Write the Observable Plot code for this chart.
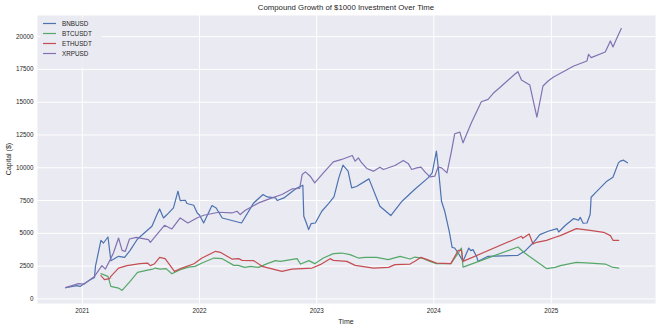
<!DOCTYPE html>
<html><head><meta charset="utf-8">
<script src="https://cdn.jsdelivr.net/npm/d3@7"></script>
<script src="https://cdn.jsdelivr.net/npm/@observablehq/plot@0.6"></script>
<style>
body{margin:0;background:#fff;font-family:"Liberation Sans",Arial,sans-serif;color:#262626;}
#wrap{position:relative;width:660px;height:328px;overflow:hidden;}
#title{position:absolute;left:37px;width:618px;top:2px;height:12px;line-height:12px;text-align:center;font-size:7.8px;}
#chart{position:absolute;left:0;top:15px;}
#ylab{position:absolute;left:8px;top:159px;transform:translate(-50%,-50%) rotate(-90deg);font-size:7px;white-space:nowrap;}
#xlab{position:absolute;left:346px;top:321px;transform:translate(-50%,-50%);font-size:7px;white-space:nowrap;}
#legend{position:absolute;left:40px;top:18px;}
</style></head>
<body>
<div id="wrap">
  <div id="title"></div>
  <div id="chart"></div>
  <div id="ylab"></div>
  <div id="xlab"></div>
  <div id="legend"></div>
</div>
<script>
const titleText = "Compound Growth of $1000 Investment Over Time";
const xLabel = "Time";
const yLabel = "Capital ($)";
const seriesNames = ["BNBUSD", "BTCUSDT", "ETHUSDT", "XRPUSD"];
const seriesColors = ["#4c72b0", "#55a868", "#c44e52", "#8172b2"];
const yTicks = [0, 2500, 5000, 7500, 10000, 12500, 15000, 17500, 20000];
const xTickYears = ["2021", "2022", "2023", "2024", "2025"];

const bnbDates = ["2020-11-10","2020-12-15","2020-12-25","2021-01-10","2021-01-26","2021-02-08","2021-02-11","2021-02-28","2021-03-08","2021-03-22","2021-03-31","2021-04-24","2021-05-13","2021-05-30","2021-06-22","2021-08-06","2021-08-23","2021-08-30","2021-09-11","2021-09-22","2021-10-12","2021-10-26","2021-11-02","2021-11-18","2021-11-23","2021-12-14","2021-12-25","2022-01-01","2022-01-14","2022-02-09","2022-02-22","2022-03-13","2022-05-12","2022-06-19","2022-07-18","2022-07-31","2022-08-26","2022-08-31","2022-09-21","2022-10-27","2022-11-19","2022-11-22","2022-11-30","2022-12-07","2022-12-15","2022-12-28","2023-01-17","2023-02-07","2023-02-24","2023-03-11","2023-03-24","2023-04-09","2023-04-20","2023-05-05","2023-06-13","2023-07-17","2023-08-20","2023-09-24","2023-11-02","2023-12-14","2023-12-27","2024-01-09","2024-01-15","2024-01-25","2024-02-04","2024-02-18","2024-02-27","2024-03-06","2024-03-17","2024-04-01","2024-04-12","2024-04-19","2024-04-25","2024-05-02","2024-05-13","2024-05-18","2024-06-18","2024-09-19","2024-10-10","2024-11-05","2024-11-26","2024-12-22","2025-01-19","2025-01-24","2025-02-14","2025-03-12","2025-03-27","2025-04-01","2025-04-10","2025-04-22","2025-05-02","2025-05-05","2025-05-18","2025-06-23","2025-07-12","2025-07-29","2025-08-04","2025-08-14","2025-08-26"];
const bnbValues = [856,1008,955,1207,1467,1643,2483,4469,4263,4722,2918,3247,3171,3705,4569,5539,6509,6861,6173,6433,6937,8213,7502,7525,7273,7143,6555,6400,5791,7120,6937,6173,5791,7319,7961,7777,7701,7502,7701,8389,8671,6303,5791,5287,5745,5791,6685,7273,7777,9229,10199,9741,8465,8572,9153,7067,6356,7449,8343,9229,9611,11269,9993,7449,6685,5157,3935,3881,3499,2865,3499,3881,3682,3759,3247,2865,3247,3323,3629,4263,4905,5157,5363,5103,5615,6127,5997,6227,5768,5791,6433,7755,8083,8977,9283,10375,10505,10581,10375];

const btcDates = ["2021-02-28","2021-03-22","2021-03-31","2021-04-24","2021-05-05","2021-05-30","2021-06-22","2021-07-23","2021-08-09","2021-08-16","2021-09-01","2021-09-19","2021-10-07","2021-11-02","2021-11-28","2021-12-18","2022-01-09","2022-02-15","2022-03-13","2022-04-18","2022-05-02","2022-05-22","2022-06-09","2022-07-04","2022-07-31","2022-08-26","2022-09-10","2022-11-01","2022-11-12","2022-12-08","2022-12-26","2023-01-22","2023-02-22","2023-03-20","2023-04-15","2023-05-11","2023-06-01","2023-07-07","2023-08-12","2023-09-18","2023-10-19","2023-11-03","2023-11-24","2023-12-20","2024-01-09","2024-02-23","2024-03-17","2024-03-27","2024-03-29","2024-04-01","2024-06-23","2024-09-19","2024-10-10","2024-12-18","2025-01-13","2025-01-29","2025-03-20","2025-05-02","2025-06-18","2025-07-09","2025-07-30"];
const btcValues = [1925,1719,955,825,649,1337,2025,2200,2277,2353,2277,2307,1925,2231,2429,2483,2735,3117,3071,2559,2559,2407,2483,2407,2689,2918,2865,3071,2659,2918,2689,3117,3453,3499,3377,3117,3171,3171,2995,3247,3041,3193,3117,2865,2689,2689,3499,3881,3247,2429,3171,3958,3499,2307,2407,2536,2789,2735,2659,2429,2353];

const ethDates = ["2021-02-28","2021-03-11","2021-03-27","2021-03-31","2021-04-24","2021-05-20","2021-06-30","2021-07-23","2021-08-01","2021-08-13","2021-08-30","2021-09-16","2021-10-15","2021-11-07","2021-12-13","2021-12-18","2022-01-09","2022-02-20","2022-03-07","2022-04-12","2022-05-03","2022-05-14","2022-06-19","2022-07-15","2022-09-15","2022-10-16","2022-12-18","2023-01-12","2023-02-12","2023-02-22","2023-04-05","2023-05-01","2023-06-27","2023-08-13","2023-09-02","2023-10-19","2023-11-03","2023-11-22","2023-12-20","2024-01-09","2024-02-23","2024-03-17","2024-03-27","2024-04-01","2024-09-30","2024-10-04","2024-10-24","2024-11-05","2024-11-16","2024-12-17","2025-01-13","2025-01-29","2025-03-20","2025-05-02","2025-06-13","2025-07-04","2025-07-12","2025-07-30"];
const ethValues = [1772,1467,1543,1719,2353,2536,2689,2735,2536,2659,3171,3071,2101,2353,2659,2735,3117,3629,3553,3041,3071,2941,2918,2483,2101,2277,2353,2613,3071,2941,2865,2559,2353,2407,2613,2659,2865,3171,2918,2735,2689,3705,3705,2865,4775,4622,4951,4187,4317,4469,4699,4828,5363,5233,5081,4828,4469,4469];

const xrpDates = ["2020-11-10","2020-12-20","2021-01-07","2021-02-08","2021-03-03","2021-03-14","2021-03-29","2021-04-08","2021-04-24","2021-05-05","2021-05-15","2021-05-28","2021-06-18","2021-07-26","2021-08-01","2021-08-21","2021-09-14","2021-10-07","2021-11-02","2021-11-26","2021-12-24","2022-01-14","2022-03-02","2022-04-12","2022-04-28","2022-05-08","2022-05-24","2022-07-04","2022-08-15","2022-09-15","2022-10-16","2022-11-09","2022-11-17","2022-11-27","2022-12-12","2022-12-26","2023-01-22","2023-02-22","2023-03-20","2023-04-22","2023-05-01","2023-05-11","2023-05-19","2023-06-06","2023-06-27","2023-07-17","2023-07-28","2023-09-02","2023-09-28","2023-10-14","2023-10-24","2023-11-09","2023-11-22","2023-12-05","2023-12-20","2024-01-04","2024-01-14","2024-01-25","2024-02-11","2024-02-25","2024-03-06","2024-03-22","2024-04-01","2024-04-27","2024-05-28","2024-06-18","2024-07-04","2024-07-24","2024-08-19","2024-09-09","2024-09-19","2024-09-30","2024-10-26","2024-11-17","2024-12-06","2024-12-22","2025-01-08","2025-03-12","2025-04-22","2025-04-27","2025-05-05","2025-06-18","2025-07-04","2025-07-12","2025-07-25","2025-08-07"];
const xrpValues = [856,1161,1131,1719,2536,2277,2995,3499,4645,3705,3629,4569,4699,4523,4317,4905,5615,5333,6173,5791,6173,6379,6609,6555,6685,6433,6761,7319,7701,7961,8389,8419,9489,9687,9359,8847,9611,10451,10635,10940,10505,10757,10451,9947,9741,10047,9871,10176,10558,10298,9871,9993,10047,9665,9306,9359,10047,9993,9611,11269,12591,12721,11903,13431,15036,15219,15677,16105,16670,17129,17328,16693,16311,13867,16235,16617,16923,17763,18145,18657,18397,18833,19673,19215,19925,20613];

const allDates = [bnbDates, btcDates, ethDates, xrpDates];
const allValues = [bnbValues, btcValues, ethValues, xrpValues];
const data = [];
seriesNames.forEach((name, i) => {
  allDates[i].forEach((d, j) => data.push({series: name, date: new Date(d + "T00:00:00Z"), value: allValues[i][j]}));
});

// matplotlib-style 5% margins
const tExt = d3.extent(data, d => +d.date);
const vExt = d3.extent(data, d => d.value);
const tPad = (tExt[1] - tExt[0]) * 0.05, vPad = (vExt[1] - vExt[0]) * 0.05;
const xTicks = xTickYears.map(y => new Date(y + "-01-01T00:00:00Z"));

const chart = Plot.plot({
  width: 660, height: 313,
  marginLeft: 37, marginRight: 5, marginTop: 0, marginBottom: 25,
  style: {fontFamily: '"Liberation Sans", Arial, sans-serif', fontSize: "6.3px", color: "#262626", background: "white", overflow: "visible"},
  x: {type: "utc", domain: [new Date(tExt[0] - tPad), new Date(tExt[1] + tPad)]},
  y: {domain: [vExt[0] - vPad, vExt[1] + vPad]},
  color: {domain: seriesNames, range: seriesColors},
  marks: [
    Plot.frame({fill: "#eaeaf2", stroke: null}),
    Plot.gridX(xTicks, {stroke: "white", strokeOpacity: 1, strokeWidth: 1}),
    Plot.gridY(yTicks, {stroke: "white", strokeOpacity: 1, strokeWidth: 1}),
    Plot.lineY(data, {x: "date", y: "value", z: "series", stroke: "series", strokeWidth: 1.2}),
    Plot.axisX(xTicks, {tickSize: 0, tickPadding: 5, tickFormat: d3.utcFormat("%Y"), label: null, fill: "#262626"}),
    Plot.axisY(yTicks, {tickSize: 0, tickPadding: 4, tickFormat: d => String(d), label: null, fill: "#262626"})
  ]
});
document.getElementById("chart").appendChild(chart);
document.getElementById("title").textContent = titleText;
document.getElementById("xlab").textContent = xLabel;
document.getElementById("ylab").textContent = yLabel;

// legend (svg, drawn from the series arrays)
const lw = 62, lh = 50;
const lsvg = d3.select("#legend").append("svg").attr("width", lw).attr("height", lh);
lsvg.append("rect").attr("width", lw).attr("height", lh).attr("rx", 2)
  .attr("fill", "#eaeaf2").attr("fill-opacity", 0.9);
seriesNames.forEach((name, i) => {
  const cy = 5.5 + i * 10;
  lsvg.append("line").attr("x1", 3).attr("x2", 16).attr("y1", cy).attr("y2", cy)
    .attr("stroke", seriesColors[i]).attr("stroke-width", 1.2);
  lsvg.append("text").attr("x", 22).attr("y", cy).attr("dy", "0.35em")
    .attr("font-size", "6.3px").attr("fill", "#262626")
    .attr("font-family", '"Liberation Sans", Arial, sans-serif').text(name);
});
</script>
</body></html>
